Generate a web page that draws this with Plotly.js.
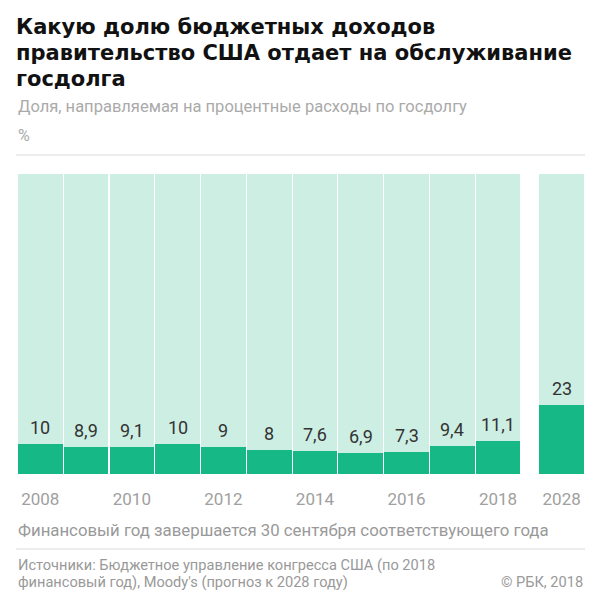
<!DOCTYPE html>
<html>
<head>
<meta charset="utf-8">
<script src="https://cdn.plot.ly/plotly-3.0.1.min.js"></script>
<style>
html,body{margin:0;padding:0;background:#fff;}
#chart{width:600px;height:600px;}
</style>
</head>
<body>
<div id="chart"></div>
<script>
// Data
var years = ['2008','2009','2010','2011','2012','2013','2014','2015','2016','2017','2018','2028'];
var shares = [10, 8.9, 9.1, 10, 9, 8, 7.6, 6.9, 7.3, 9.4, 11.1, 23];
var shareLabels = ['10','8,9','9,1','10','9','8','7,6','6,9','7,3','9,4','11,1','23'];
var positions = [0,1,2,3,4,5,6,7,8,9,10,11.39];
var tickYears = ['2008','2010','2012','2014','2016','2018','2028'];
var tickPositions = [0,2,4,6,8,10,11.39];

var titleLines = [
  'Какую долю бюджетных доходов',
  'правительство США отдает на обслуживание',
  'госдолга'
];
var subtitle = 'Доля, направляемая на процентные расходы по госдолгу';
var unitLabel = '%';
var footnote = 'Финансовый год завершается 30 сентября соответствующего года';
var sourceLines = ['Источники: Бюджетное управление конгресса США (по 2018', 'финансовый год), Moody\'s (прогноз к 2028 году)'];
var credit = '© РБК, 2018';

var rest = shares.map(function(v){ return 100 - v; });

var FONT = 'Roboto, "Open Sans", sans-serif';
var TFONT = '"DejaVu Sans", Roboto, sans-serif';

var traces = [
  {
    type: 'bar', x: positions, y: shares, width: 0.975,
    marker: {color: '#16b985'}, hoverinfo: 'skip', showlegend: false
  },
  {
    type: 'bar', x: positions, y: rest, width: 0.975,
    marker: {color: '#cdeee3'}, hoverinfo: 'skip', showlegend: false
  }
];

var PX = 300; // plot height in px (for paper conversions)
function py(pixelY){ return (474 - pixelY) / PX; }
function pxX(pixelX){ return (pixelX - 18) / 566; }

var annotations = [];
// value labels
for (var i = 0; i < shares.length; i++) {
  annotations.push({
    x: positions[i], y: shares[i], xref: 'x', yref: 'y',
    text: shareLabels[i], showarrow: false,
    xanchor: 'center', yanchor: 'bottom', yshift: 4,
    font: {family: FONT, size: 18, color: '#333333'}
  });
}
// title lines
var titleY = [27, 53, 79];
for (var j = 0; j < titleLines.length; j++) {
  annotations.push({
    xref: 'paper', yref: 'paper', x: pxX(15), y: py(titleY[j]),
    xanchor: 'left', yanchor: 'middle', showarrow: false, borderpad: 0,
    text: '<b>' + titleLines[j] + '</b>',
    font: {family: TFONT, size: 21, color: '#111111'}
  });
}
annotations.push({
  xref: 'paper', yref: 'paper', x: pxX(16), y: py(106),
  xanchor: 'left', yanchor: 'middle', showarrow: false,
  text: subtitle, font: {family: FONT, size: 16.5, color: '#aaaaaa'}
});
annotations.push({
  xref: 'paper', yref: 'paper', x: pxX(16), y: py(135),
  xanchor: 'left', yanchor: 'middle', showarrow: false,
  text: unitLabel, font: {family: FONT, size: 16, color: '#aaaaaa'}
});
annotations.push({
  xref: 'paper', yref: 'paper', x: pxX(16), y: py(530),
  xanchor: 'left', yanchor: 'middle', showarrow: false,
  text: footnote, font: {family: FONT, size: 16.8, color: '#999999'}
});
annotations.push({
  xref: 'paper', yref: 'paper', x: pxX(16), y: py(565),
  xanchor: 'left', yanchor: 'middle', showarrow: false,
  text: sourceLines[0], font: {family: FONT, size: 14.6, color: '#999999'}
});
annotations.push({
  xref: 'paper', yref: 'paper', x: pxX(16), y: py(582),
  xanchor: 'left', yanchor: 'middle', showarrow: false,
  text: sourceLines[1], font: {family: FONT, size: 14.6, color: '#999999'}
});
annotations.push({
  xref: 'paper', yref: 'paper', x: pxX(585), y: py(582),
  xanchor: 'right', yanchor: 'middle', showarrow: false,
  text: credit, font: {family: FONT, size: 14.6, color: '#999999'}
});

var shapes = [
  {type: 'line', xref: 'paper', yref: 'paper', x0: pxX(16), x1: pxX(585), y0: py(155), y1: py(155),
   line: {color: '#e6e6e6', width: 1.5}},
  {type: 'line', xref: 'paper', yref: 'paper', x0: pxX(16), x1: pxX(585), y0: py(549), y1: py(549),
   line: {color: '#e6e6e6', width: 1.5}}
];

var layout = {
  width: 600, height: 600,
  margin: {l: 18, r: 16, t: 174, b: 126, pad: 0},
  paper_bgcolor: '#ffffff', plot_bgcolor: '#ffffff',
  barmode: 'stack', bargap: 0,
  font: {family: FONT},
  xaxis: {
    type: 'linear', range: [-0.4875, 11.8775],
    tickmode: 'array', tickvals: tickPositions, ticktext: tickYears,
    ticks: 'outside', ticklen: 10, tickcolor: 'rgba(0,0,0,0)',
    tickfont: {family: FONT, size: 17, color: '#a0a0a0'},
    showgrid: false, zeroline: false, showline: false, fixedrange: true
  },
  yaxis: {
    range: [0, 100], showticklabels: false, showgrid: false,
    zeroline: false, showline: false, ticks: '', fixedrange: true
  },
  annotations: annotations,
  shapes: shapes,
  showlegend: false
};

Plotly.newPlot('chart', traces, layout, {displayModeBar: false, staticPlot: true});
</script>
</body>
</html>
